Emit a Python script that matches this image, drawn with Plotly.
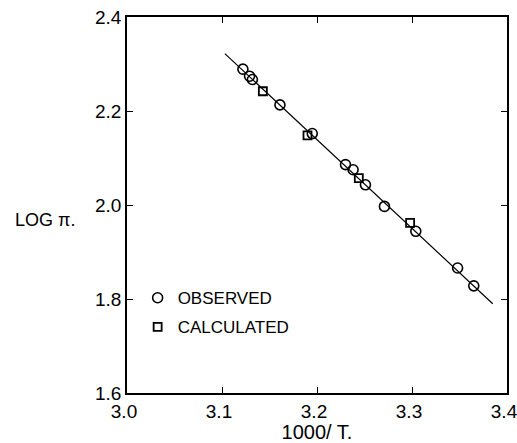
import plotly.graph_objects as go

# Observed data (1000/T, log pi)
obs_x = [3.122, 3.129, 3.132, 3.161, 3.195, 3.230, 3.238, 3.251, 3.271, 3.304, 3.348, 3.365]
obs_y = [2.289, 2.274, 2.267, 2.213, 2.152, 2.086, 2.075, 2.043, 1.997, 1.944, 1.866, 1.828]

# Calculated data
calc_x = [3.143, 3.190, 3.244, 3.298]
calc_y = [2.242, 2.148, 2.057, 1.962]

# Fitted line
fit_x = [3.103, 3.385]
fit_y = [2.322, 1.790]

x_ticks = [3.0, 3.1, 3.2, 3.3, 3.4]
y_ticks = [1.6, 1.8, 2.0, 2.2, 2.4]

font_family = "Liberation Sans, Arial, sans-serif"

fig = go.Figure()
fig.add_trace(go.Scatter(x=fit_x, y=fit_y, mode="lines",
                         line=dict(color="black", width=1.2), showlegend=False))
fig.add_trace(go.Scatter(x=calc_x, y=calc_y, mode="markers", name="CALCULATED",
                         legendgroup="b", legendrank=2,
                         marker=dict(symbol="square-open", size=8, color="black",
                                     line=dict(width=1.8))))
fig.add_trace(go.Scatter(x=obs_x, y=obs_y, mode="markers", name="OBSERVED",
                         legendgroup="a", legendrank=1,
                         marker=dict(symbol="circle-open", size=10, color="black",
                                     line=dict(width=1.6))))

axis_common = dict(showgrid=False, zeroline=False, showline=True, linecolor="black",
                   linewidth=1.5, mirror="ticks", ticks="inside", ticklen=6,
                   tickcolor="black", tickwidth=1, automargin=False,
                   ticklabeloverflow="allow",
                   tickfont=dict(family=font_family, size=19, color="black"))

fig.update_layout(
    width=517, height=443,
    margin=dict(l=127, r=10, t=17, b=50),
    paper_bgcolor="white", plot_bgcolor="white",
    font=dict(family=font_family, color="black"),
    xaxis=dict(range=[3.0, 3.4], tickvals=x_ticks, ticktext=[f"{v:.1f}" for v in x_ticks],
               ticklabelshift=-3,
               title=dict(text="1000/ T.", font=dict(size=20), standoff=4), **axis_common),
    yaxis=dict(range=[1.6, 2.4], tickvals=y_ticks, ticktext=[f"{v:.1f}" for v in y_ticks],
               **axis_common),
    legend=dict(x=0.028, y=0.30, xanchor="left", yanchor="top",
                traceorder="grouped", tracegroupgap=4,
                font=dict(family=font_family, size=17, color="black"),
                bgcolor="rgba(0,0,0,0)", itemwidth=30),
    annotations=[dict(text="LOG π.", x=-0.3, y=0.46, xref="paper", yref="paper",
                      xanchor="left", yanchor="middle",
                      showarrow=False, font=dict(size=18, family=font_family))],
)

fig.write_html("out.html")
